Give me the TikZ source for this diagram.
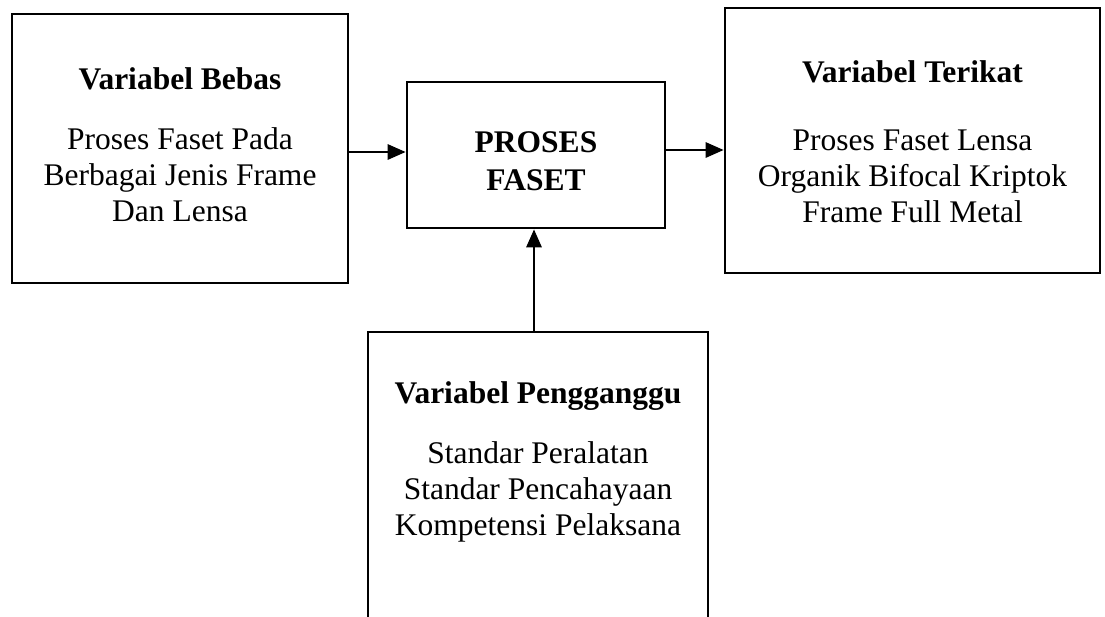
\documentclass[tikz,border=0pt]{standalone}
\usepackage{fontspec}
\setmainfont{Liberation Serif}
\usetikzlibrary{arrows.meta}
\begin{document}
\begin{tikzpicture}[x=1pt,y=-1pt,
  box/.style={draw=black, line width=2.6pt, inner sep=0pt},
  ttl/.style={font=\fontsize{31.5}{37}\selectfont\bfseries, anchor=base, inner sep=0pt},
  txt/.style={font=\fontsize{31.5}{37}\selectfont, anchor=base, inner sep=0pt},
  arr/.style={line width=2.8pt, -{Triangle[length=18pt,width=15pt]}}]
\useasboundingbox[fill=white] (0,0) rectangle (1105,616);
% boxes
\node[box, minimum width=336pt, minimum height=269pt] (bebas) at (180,148.5) {};
\node[box, minimum width=258pt, minimum height=146pt] (proses) at (536,155) {};
\node[box, minimum width=375pt, minimum height=265pt] (terikat) at (912.5,140.5) {};
\node[box, minimum width=340pt, minimum height=330pt] (ganggu) at (538,497) {};
% texts left
\node[ttl] (bebasT) at (180,89) {Variabel Bebas};
\node[txt] (bebas1) at (180,149) {Proses Faset Pada};
\node[txt] (bebas2) at (180,185) {Berbagai Jenis Frame};
\node[txt] (bebas3) at (180,221) {Dan Lensa};
% centre
\node[ttl] (proses1) at (536,152) {PROSES};
\node[ttl] (proses2) at (536,190) {FASET};
% right
\node[ttl] (terikatT) at (912.5,82) {Variabel Terikat};
\node[txt] (terikat1) at (912.5,150) {Proses Faset Lensa};
\node[txt] (terikat2) at (912.5,186) {Organik Bifocal Kriptok};
\node[txt] (terikat3) at (912.5,222) {Frame Full Metal};
% bottom
\node[ttl] (gangguT) at (538,403) {Variabel Pengganggu};
\node[txt] (ganggu1) at (538,463) {Standar Peralatan};
\node[txt] (ganggu2) at (538,499) {Standar Pencahayaan};
\node[txt] (ganggu3) at (538,535) {Kompetensi Pelaksana};
% connectors
\draw[arr] (bebas.east |- 0,152) -- (proses.west |- 0,152);
\draw[arr] (proses.east |- 0,150) -- (terikat.west |- 0,150);
\draw[arr] (ganggu.north -| 534,0) -- (proses.south -| 534,0);
\end{tikzpicture}
\end{document}
